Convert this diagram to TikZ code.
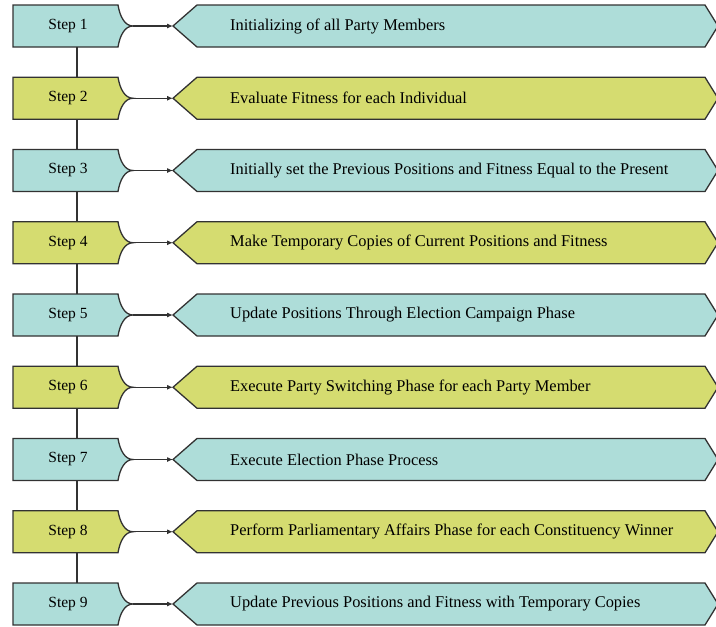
\documentclass[tikz,border=0pt]{standalone}
\usepackage{fontspec}
\setmainfont{Liberation Serif}
\usetikzlibrary{arrows.meta}
\definecolor{stepcyan}{RGB}{174,221,217}
\definecolor{stepolive}{RGB}{213,220,112}
\definecolor{edgegray}{RGB}{50,50,50}
\tikzset{box/.style={draw=edgegray, line width=1.3pt, line join=miter},
         link/.style={draw=edgegray, line width=1.1pt},
         txt/.style={inner sep=0pt, font=\fontsize{15.5}{18}\selectfont},
         tasktxt/.style={inner sep=0pt, anchor=west, font=\fontsize{16.4}{19}\selectfont}}
% left box with concave nose: name, y, colour
\newcommand\stepbox[3]{%
\draw[box, fill=#3] (13,#2+21) -- (118,#2+21) .. controls (120,#2+9) and (125,#2) .. (133,#2) .. controls (125,#2) and (120,#2-9) .. (118,#2-21) -- (13,#2-21) -- cycle;
\coordinate (#1tip) at (133,#2);
\coordinate (#1top) at (77,#2+21);
\coordinate (#1bot) at (77,#2-21);}
% right chevron box: name, y, colour
\newcommand\taskbox[3]{%
\draw[box, fill=#3] (173,#2) -- (197,#2+21) -- (705,#2+21) -- (718,#2) -- (705,#2-21) -- (197,#2-21) -- cycle;
\coordinate (#1pt) at (173,#2);}

\begin{document}
\begin{tikzpicture}[x=1pt, y=1pt]
\useasboundingbox (0,0) rectangle (716,-627);
\begin{scope}
\clip (0,0) rectangle (716,-627);
\stepbox{s1}{-26}{stepcyan}      \taskbox{t1}{-26}{stepcyan}
\stepbox{s2}{-98.25}{stepolive}  \taskbox{t2}{-98.25}{stepolive}
\stepbox{s3}{-170.5}{stepcyan}   \taskbox{t3}{-170.5}{stepcyan}
\stepbox{s4}{-242.75}{stepolive} \taskbox{t4}{-242.75}{stepolive}
\stepbox{s5}{-315}{stepcyan}     \taskbox{t5}{-315}{stepcyan}
\stepbox{s6}{-387.25}{stepolive} \taskbox{t6}{-387.25}{stepolive}
\stepbox{s7}{-459.5}{stepcyan}   \taskbox{t7}{-459.5}{stepcyan}
\stepbox{s8}{-531.75}{stepolive} \taskbox{t8}{-531.75}{stepolive}
\stepbox{s9}{-604}{stepcyan}     \taskbox{t9}{-604}{stepcyan}
\end{scope}

\node[txt] (s1) at (68,-26) {Step 1};
\node[txt] (s2) at (68,-98.25) {Step 2};
\node[txt] (s3) at (68,-170.5) {Step 3};
\node[txt] (s4) at (68,-242.75) {Step 4};
\node[txt] (s5) at (68,-315) {Step 5};
\node[txt] (s6) at (68,-387.25) {Step 6};
\node[txt] (s7) at (68,-459.5) {Step 7};
\node[txt] (s8) at (68,-531.75) {Step 8};
\node[txt] (s9) at (68,-604) {Step 9};

\node[tasktxt] (t1) at (230,-26) {Initializing of all Party Members};
\node[tasktxt] (t2) at (230,-98.25) {Evaluate Fitness for each Individual};
\node[tasktxt] (t3) at (230,-170.5) {Initially set the Previous Positions and Fitness Equal to the Present};
\node[tasktxt] (t4) at (230,-242.75) {Make Temporary Copies of Current Positions and Fitness};
\node[tasktxt] (t5) at (230,-315) {Update Positions Through Election Campaign Phase};
\node[tasktxt] (t6) at (230,-387.25) {Execute Party Switching Phase for each Party Member};
\node[tasktxt] (t7) at (230,-459.5) {Execute Election Phase Process};
\node[tasktxt] (t8) at (230,-531.75) {Perform Parliamentary Affairs Phase for each Constituency Winner};
\node[tasktxt] (t9) at (230,-604) {Update Previous Positions and Fitness with Temporary Copies};

% arrows into the chevrons
\draw [link, -{Latex[length=6pt, width=5pt]}](s1tip) -- (t1pt);
\draw [link, -{Latex[length=6pt, width=5pt]}](s2tip) -- (t2pt);
\draw [link, -{Latex[length=6pt, width=5pt]}](s3tip) -- (t3pt);
\draw [link, -{Latex[length=6pt, width=5pt]}](s4tip) -- (t4pt);
\draw [link, -{Latex[length=6pt, width=5pt]}](s5tip) -- (t5pt);
\draw [link, -{Latex[length=6pt, width=5pt]}](s6tip) -- (t6pt);
\draw [link, -{Latex[length=6pt, width=5pt]}](s7tip) -- (t7pt);
\draw [link, -{Latex[length=6pt, width=5pt]}](s8tip) -- (t8pt);
\draw [link, -{Latex[length=6pt, width=5pt]}](s9tip) -- (t9pt);

% spine between the steps
\draw [link](s1bot) -- (s2top);
\draw [link](s2bot) -- (s3top);
\draw [link](s3bot) -- (s4top);
\draw [link](s4bot) -- (s5top);
\draw [link](s5bot) -- (s6top);
\draw [link](s6bot) -- (s7top);
\draw [link](s7bot) -- (s8top);
\draw [link](s8bot) -- (s9top);
\end{tikzpicture}
\end{document}
